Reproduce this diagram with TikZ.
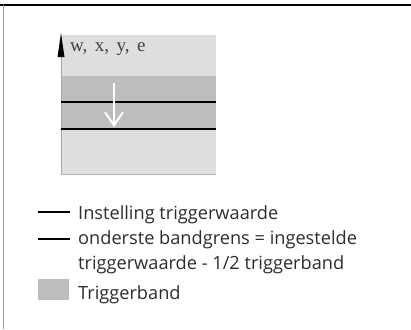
\documentclass[tikz,border=0pt]{standalone}
\usepackage{fontspec}
\setmainfont{Open Sans}
\newfontfamily\axisfont{Liberation Serif}
\usetikzlibrary{arrows.meta}
\definecolor{bandlight}{RGB}{222,222,222}
\definecolor{banddark}{RGB}{189,189,189}
\definecolor{txtgray}{RGB}{45,45,45}
\tikzset{
  legendtext/.style={anchor=base west, inner sep=0pt, text=txtgray, font=\fontsize{18.2}{25}\selectfont, align=left},
  legendline/.style={line width=1.2pt, black}
}

\begin{document}
\begin{tikzpicture}[x=1pt,y=-1pt]
			%%%%% START %%%%%
			\useasboundingbox (0, 0) rectangle (411, 329);
			
			% frame
			\draw[line width=1.5pt] (0, 5) -- (411, 5);
			\draw[line width=0.8pt, color=black!40] (3, 5) -- (3, 329);
			
			% chart
			\fill[bandlight] (61, 35) rectangle (216, 174);
			\fill[banddark] (61, 76) rectangle (216, 130);
			\draw[line width=0.8pt, color=black!30] (61, 174) -- (216, 174);
			\draw[line width=0.8pt, color=black!35] (61, 174) -- (61, 55);
			\draw[line width=1.3pt] (61, 102) -- (216, 102);
			\draw[line width=1.3pt] (61, 129) -- (216, 129);
			\fill[black] (61, 33) -- (64.5, 57) -- (57.5, 57) -- cycle;
			\node[anchor=base west, inner sep=0pt, text=black!75, font=\axisfont\fontsize{19}{19}\selectfont] (axislabel) at (70, 51) {w,\hspace{7.5pt}x,\hspace{7.5pt}y,\hspace{7.5pt}e};
			\draw[white, line width=2pt, -{Straight Barb[length=13pt, width=18pt, line width=2pt]}] (114, 83) -- (114, 127);
			
			% legend
			\node[legendtext] (setting) at (78, 219) {Instelling triggerwaarde};
			\node[legendtext] (lowerlimit) at (78, 244) {onderste bandgrens = ingestelde};
			\node[legendtext] (lowerlimit2) at (78, 269) {triggerwaarde - 1/2 triggerband};
			\node[legendtext] (band) at (78, 299) {Triggerband};
			\draw[legendline] (38, 212) -- (70, 212);
			\draw[legendline] (38, 239) -- (70, 239);
			\fill[banddark] (38, 279) rectangle (69, 300);
			%%%%% END %%%%%
\end{tikzpicture}
\end{document}
